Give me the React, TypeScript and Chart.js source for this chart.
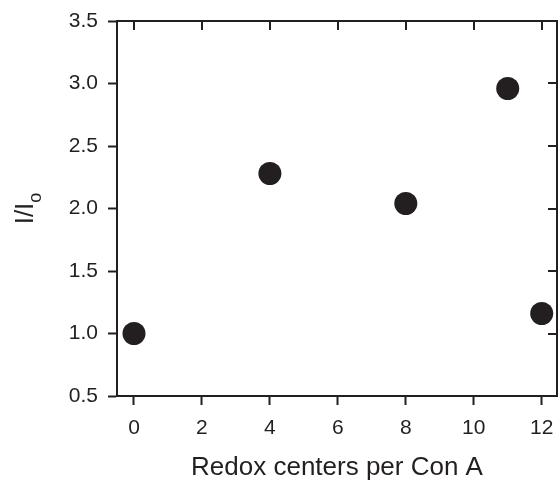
import React, { useEffect, useRef } from "react";
import { Chart, registerables } from "chart.js";

Chart.register(...registerables);

const redoxCenters = [0, 4, 8, 11, 12];
const intensityRatio = [1.0, 2.28, 2.04, 2.96, 1.16];
const xTickValues = [0, 2, 4, 6, 8, 10, 12];
const yTickValues = [0.5, 1.0, 1.5, 2.0, 2.5, 3.0, 3.5];
const xTitle = "Redox centers per Con A";
const yTitleMain = "I/I";
const yTitleSub = "o";

const INK = "#231f20";
const FONT = "'Liberation Sans', Arial, Helvetica, sans-serif";

const framePlugin = {
  id: "frame",
  afterDraw(chart: any) {
    const { ctx, chartArea, scales } = chart;
    const { left, right, top, bottom } = chartArea;
    const xs = scales.x;
    const ys = scales.y;
    ctx.save();
    ctx.strokeStyle = INK;
    ctx.lineWidth = 2;
    ctx.beginPath();
    ctx.moveTo(left, top);
    ctx.lineTo(right + 1, top);
    ctx.moveTo(right, top);
    ctx.lineTo(right, bottom + 1);
    ctx.stroke();
    ctx.beginPath();
    xTickValues.forEach((v) => {
      const px = Math.round(xs.getPixelForValue(v));
      ctx.moveTo(px, top);
      ctx.lineTo(px, top + 9);
    });
    yTickValues.forEach((v) => {
      const py = Math.round(ys.getPixelForValue(v));
      ctx.moveTo(right, py);
      ctx.lineTo(right - 9, py);
    });
    ctx.stroke();

    ctx.fillStyle = INK;
    ctx.font = `26px ${FONT}`;
    ctx.textAlign = "center";
    ctx.textBaseline = "alphabetic";
    ctx.fillText(xTitle, (left + right) / 2, 475);

    const cy = (top + bottom) / 2;
    ctx.translate(33, cy);
    ctx.rotate(-Math.PI / 2);
    ctx.font = `26px ${FONT}`;
    const mainW = ctx.measureText(yTitleMain).width;
    ctx.font = `18px ${FONT}`;
    const subW = ctx.measureText(yTitleSub).width;
    const total = mainW + subW;
    ctx.textAlign = "left";
    ctx.font = `26px ${FONT}`;
    ctx.fillText(yTitleMain, -total / 2, 0);
    ctx.font = `18px ${FONT}`;
    ctx.fillText(yTitleSub, -total / 2 + mainW, 8);
    ctx.restore();
  },
};

export default function App() {
  const canvasRef = useRef<HTMLCanvasElement | null>(null);

  useEffect(() => {
    if (!canvasRef.current) return;
    const chart = new Chart(canvasRef.current, {
      type: "scatter",
      data: {
        datasets: [
          {
            data: redoxCenters.map((x, i) => ({ x, y: intensityRatio[i] })),
            backgroundColor: INK,
            borderWidth: 0,
            pointRadius: 11.5,
            pointHoverRadius: 11.5,
          },
        ],
      },
      options: {
        animation: false,
        responsive: false,
        devicePixelRatio: 1,
        layout: { autoPadding: false, padding: { top: 21, right: 2, left: 0, bottom: 0 } },
        plugins: {
          legend: { display: false },
          tooltip: { enabled: false },
        },
        scales: {
          x: {
            type: "linear",
            min: -0.5,
            max: 12.45,
            afterBuildTicks: (scale: any) => {
              scale.ticks = xTickValues.map((v) => ({ value: v }));
            },
            afterFit: (scale: any) => {
              scale.height = 84;
              scale.paddingLeft = 0;
              scale.paddingRight = 0;
            },
            border: { color: INK, width: 2 },
            grid: {
              drawOnChartArea: false,
              drawTicks: true,
              tickLength: 9,
              tickWidth: 2,
              tickColor: INK,
            },
            ticks: {
              color: INK,
              font: { family: FONT, size: 21 },
              padding: 11,
              maxRotation: 0,
              callback: (v: any) => String(v),
            },
          },
          y: {
            type: "linear",
            min: 0.5,
            max: 3.5,
            afterBuildTicks: (scale: any) => {
              scale.ticks = yTickValues.map((v) => ({ value: v }));
            },
            afterFit: (scale: any) => {
              scale.width = 117;
              scale.paddingTop = 0;
              scale.paddingBottom = 0;
            },
            border: { color: INK, width: 2 },
            grid: {
              drawOnChartArea: false,
              drawTicks: true,
              tickLength: 9,
              tickWidth: 2,
              tickColor: INK,
            },
            ticks: {
              color: INK,
              font: { family: FONT, size: 21 },
              padding: 10,
              callback: (v: any) => Number(v).toFixed(1),
            },
          },
        },
      },
      plugins: [framePlugin],
    });
    return () => chart.destroy();
  }, []);

  return (
    <div style={{ position: "absolute", left: 0, top: 0, width: 559, height: 480 }}>
      <canvas ref={canvasRef} width={559} height={480} />
    </div>
  );
}
